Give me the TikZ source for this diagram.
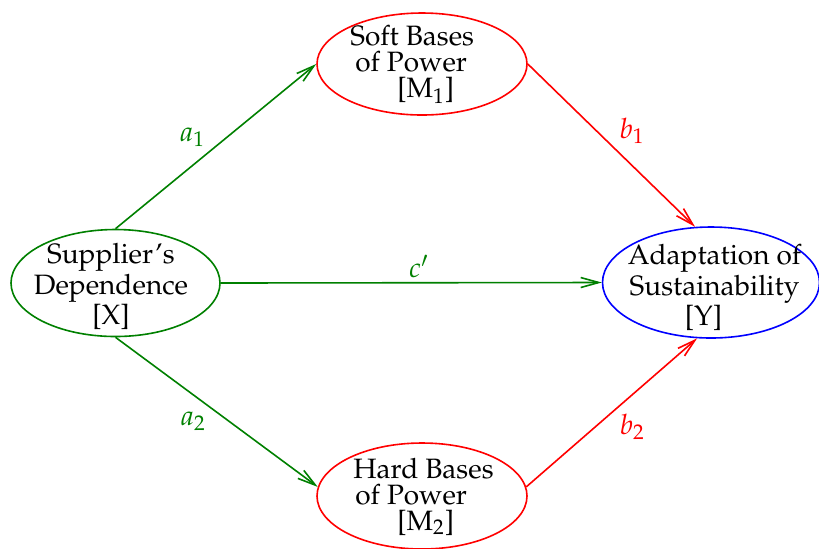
\documentclass[tikz,border=0pt]{standalone}
\usepackage[T1]{fontenc}
\usepackage{mathpazo}
\usetikzlibrary{arrows.meta,shapes.geometric}
\definecolor{pathgreen}{rgb}{0,0.5,0}

\begin{document}
\begin{tikzpicture}[x=0.5pt, y=-0.5pt,
  font=\fontsize{14}{13}\selectfont,
  var/.style={draw, ellipse, line width=0.8pt, inner sep=0pt},
  txt/.style={align=center, inner sep=0pt},
  arr/.style={-{Straight Barb[length=9pt,width=5pt]}, line width=0.8pt},
  coef/.style={inner sep=2pt}
]
\useasboundingbox (0,0) rectangle (819,548);

% variables
\node[var, draw=pathgreen, minimum width=104.5pt, minimum height=53.5pt] (X) at (115.5,283) {};
\node[txt] (Xtxt) at (111,286.5) {Supplier's\\Dependence\\{}[X]};

\node[var, draw=red, minimum width=105pt, minimum height=51pt] (M1) at (422,64) {};
\node[txt, align=left, anchor=west] (M1txt) at (350,64.5)
  {Soft Bases\\\hspace*{2.5pt}of Power\\\hspace*{23.5pt}[M$_1$]};

\node[var, draw=red, minimum width=105pt, minimum height=53pt] (M2) at (422,496) {};
\node[txt, align=left, anchor=west] (M2txt) at (353,496.5)
  {Hard Bases\\\hspace*{1pt}of Power\\\hspace*{22pt}[M$_2$]};

\node[var, draw=blue, minimum width=108.5pt, minimum height=55.5pt] (Y) at (711,282.5) {};
\node[txt] (Ytxt) at (714.5,287.5) {Adaptation of\\Sustainability\\{}[Y]\hspace*{11pt}};

% paths
\draw[arr, pathgreen] (X.north) -- node[coef, pos=0.47, above left] (a1) {$a_1$} (M1.west);
\draw[arr, pathgreen] (X.south) -- node[coef, pos=0.47, below left] (a2) {$a_2$} (M2.175);
\draw[arr, pathgreen] (X.east) -- node[coef, pos=0.52, above] (c) {$c'$} (Y.west);
\draw[arr, red] (M1.east) -- node[coef, pos=0.52, above right] (b1) {$b_1$} (Y.106);
\draw[arr, red] (M2.5) -- node[coef, pos=0.52, below right] (b2) {$b_2$} (Y.256);
\end{tikzpicture}
\end{document}
